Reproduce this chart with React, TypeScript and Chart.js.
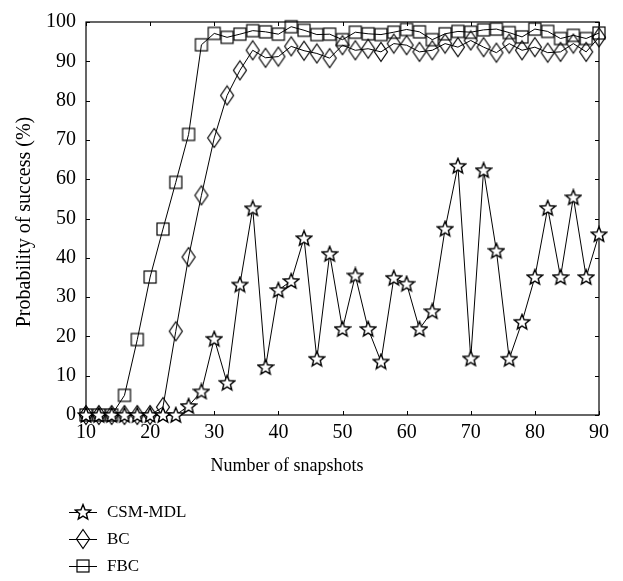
import React, { useEffect, useRef } from "react";
import { Chart, registerables } from "chart.js";

Chart.register(...registerables);

const snapshots = [10, 12, 14, 16, 18, 20, 22, 24, 26, 28, 30, 32, 34, 36, 38, 40, 42, 44, 46, 48, 50, 52, 54, 56, 58, 60, 62, 64, 66, 68, 70, 72, 74, 76, 78, 80, 82, 84, 86, 88, 90];
const csmMdl = [0, 0, 0, 0, 0, 0, 0, 0, 2.3, 6.0, 19.4, 8.2, 33.2, 52.6, 12.2, 31.8, 34.1, 45.0, 14.3, 41.0, 21.9, 35.5, 21.9, 13.6, 34.9, 33.4, 21.9, 26.4, 47.4, 63.4, 14.4, 62.3, 41.8, 14.3, 23.7, 35.1, 52.7, 35.1, 55.4, 35.1, 46.0];
const bc = [0, 0, 0, 0, 0, 0, 2, 21.3, 40.2, 55.9, 70.5, 81.3, 87.7, 92.8, 90.9, 91.2, 93.8, 92.7, 92.0, 90.8, 94.1, 92.8, 93.2, 92.4, 94.5, 94.1, 92.4, 92.8, 94.5, 93.6, 95.3, 93.6, 92.2, 94.5, 92.8, 93.6, 92.2, 92.4, 94.5, 92.4, 96.1];
const fbc = [0, 0, 0, 5.0, 19.2, 35.1, 47.3, 59.2, 71.4, 94.2, 97.1, 96.1, 96.9, 97.8, 97.5, 96.9, 98.8, 97.9, 96.8, 96.9, 95.5, 97.4, 97.0, 96.8, 97.4, 98.1, 97.5, 95.5, 97.0, 97.6, 97.4, 98.0, 98.2, 97.3, 96.2, 98.2, 97.6, 95.8, 96.6, 95.8, 97.2];
const seriesNames = ["CSM-MDL", "BC", "FBC"];
const xTitle = "Number of snapshots";
const yTitle = "Probability of success (%)";

const FONT = "'Liberation Serif', 'Times New Roman', serif";

function makeStar(): HTMLCanvasElement {
  const c = document.createElement("canvas");
  c.width = 18;
  c.height = 18;
  const g = c.getContext("2d")!;
  g.beginPath();
  for (let i = 0; i < 10; i++) {
    const r = i % 2 === 0 ? 8 : 3.5;
    const a = -Math.PI / 2 + (i * Math.PI) / 5;
    const px = 9 + r * Math.cos(a);
    const py = 9.6 + r * Math.sin(a);
    if (i === 0) g.moveTo(px, py);
    else g.lineTo(px, py);
  }
  g.closePath();
  g.fillStyle = "#fff";
  g.fill();
  g.strokeStyle = "#000";
  g.lineWidth = 1.4;
  g.stroke();
  return c;
}

function makeDiamond(): HTMLCanvasElement {
  const c = document.createElement("canvas");
  c.width = 16;
  c.height = 22;
  const g = c.getContext("2d")!;
  g.beginPath();
  g.moveTo(8, 1.5);
  g.lineTo(14.5, 11);
  g.lineTo(8, 20.5);
  g.lineTo(1.5, 11);
  g.closePath();
  g.strokeStyle = "#000";
  g.lineWidth = 1.2;
  g.stroke();
  return c;
}

function makeSquare(): HTMLCanvasElement {
  const c = document.createElement("canvas");
  c.width = 16;
  c.height = 16;
  const g = c.getContext("2d")!;
  g.strokeStyle = "#000";
  g.lineWidth = 1.2;
  g.strokeRect(2, 2, 12, 12);
  return c;
}

export default function App() {
  const ref = useRef<HTMLCanvasElement | null>(null);

  useEffect(() => {
    document.body.style.margin = "0";
    const canvas = ref.current;
    if (!canvas) return;
    const markers = [makeStar(), makeDiamond(), makeSquare()];
    const series = [csmMdl, bc, fbc];

    const framePlugin = {
      id: "framePlugin",
      beforeDatasetsDraw(chart: any) {
        const { ctx, chartArea } = chart;
        const { left, right, top, bottom } = chartArea;
        ctx.save();
        ctx.strokeStyle = "#000";
        ctx.lineWidth = 1.2;
        ctx.strokeRect(left, top, right - left, bottom - top);
        const xs = chart.scales.x;
        const ys = chart.scales.y;
        ctx.lineWidth = 1;
        ctx.beginPath();
        xs.ticks.forEach((t: any) => {
          const px = Math.round(xs.getPixelForValue(t.value)) + 0.5;
          ctx.moveTo(px, bottom);
          ctx.lineTo(px, bottom - 4);
          ctx.moveTo(px, top);
          ctx.lineTo(px, top + 4);
        });
        ys.ticks.forEach((t: any) => {
          const py = Math.round(ys.getPixelForValue(t.value)) + 0.5;
          ctx.moveTo(left, py);
          ctx.lineTo(left + 4, py);
          ctx.moveTo(right, py);
          ctx.lineTo(right - 4, py);
        });
        ctx.stroke();
        ctx.restore();
      },
      afterDraw(chart: any) {
        const { ctx } = chart;
        ctx.save();
        ctx.fillStyle = "#000";
        ctx.font = `18px ${FONT}`;
        ctx.textAlign = "center";
        ctx.textBaseline = "alphabetic";
        ctx.fillText(xTitle, 287, 471);

        ctx.save();
        ctx.translate(25, 222);
        ctx.rotate(-Math.PI / 2);
        ctx.font = `20px ${FONT}`;
        ctx.textBaseline = "middle";
        ctx.fillText(yTitle, 0, 0);
        ctx.restore();

        const rows = [512, 539, 566];
        ctx.font = `17px ${FONT}`;
        ctx.textAlign = "left";
        ctx.textBaseline = "middle";
        seriesNames.forEach((name, i) => {
          const y = rows[i];
          ctx.strokeStyle = "#000";
          ctx.lineWidth = 1;
          ctx.beginPath();
          ctx.moveTo(69, y + 0.5);
          ctx.lineTo(97, y + 0.5);
          ctx.stroke();
          const m = markers[i];
          ctx.drawImage(m, 83 - m.width / 2, y - m.height / 2);
          ctx.fillText(name, 107, y + 1);
        });
        ctx.restore();
      },
    };

    const chart = new Chart(canvas, {
      type: "line",
      data: {
        datasets: series.map((vals, i) => ({
          label: seriesNames[i],
          data: snapshots.map((x, j) => ({ x, y: vals[j] })),
          borderColor: "#000",
          borderWidth: 1,
          pointStyle: markers[i] as any,
          pointRadius: 7,
          pointBorderColor: "#000",
          pointBackgroundColor: "rgba(0,0,0,0)",
          tension: 0,
          fill: false,
          clip: false as any,
        })),
      },
      options: {
        responsive: false,
        animation: false,
        layout: { padding: { left: 14, right: 24, top: 11, bottom: 0 } },
        plugins: {
          legend: { display: false },
          tooltip: { enabled: false },
        },
        scales: {
          x: {
            type: "linear",
            min: 10,
            max: 90,
            grid: { display: false, drawTicks: false },
            border: { display: false },
            ticks: {
              stepSize: 10,
              color: "#000",
              padding: 6,
              font: { family: FONT, size: 20 },
              maxRotation: 0,
            },
            afterFit: (scale: any) => {
              scale.height = 166;
            },
          },
          y: {
            type: "linear",
            min: 0,
            max: 100,
            grid: { display: false, drawTicks: false },
            border: { display: false },
            ticks: {
              stepSize: 10,
              color: "#000",
              padding: 10,
              font: { family: FONT, size: 20 },
            },
            afterFit: (scale: any) => {
              scale.width = 72;
            },
          },
        },
      },
      plugins: [framePlugin],
    });

    return () => chart.destroy();
  }, []);

  return <canvas ref={ref} width={623} height={581} style={{ display: "block" }} />;
}
